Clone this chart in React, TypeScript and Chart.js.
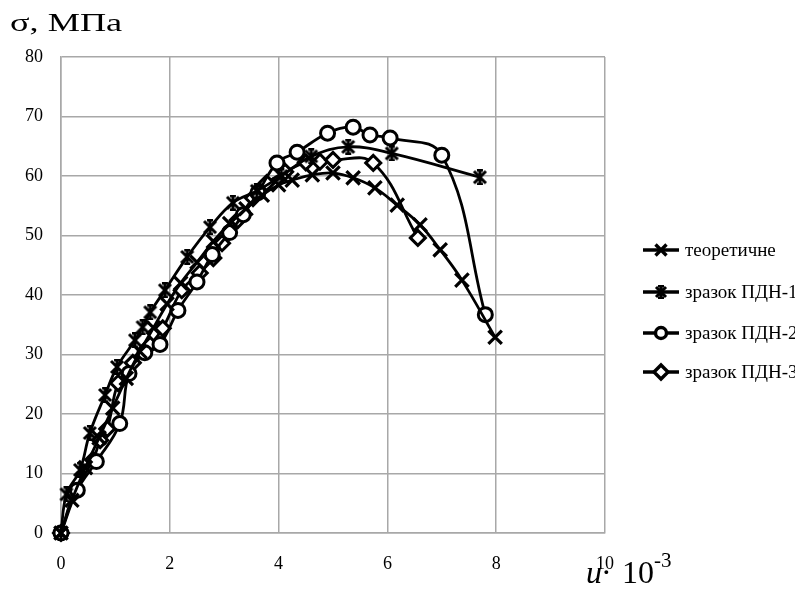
import React, { useEffect, useRef } from 'react';
import { Chart, registerables } from 'chart.js';

Chart.register(...registerables);

const seriesNames = ['теоретичне', 'зразок ПДН-1', 'зразок ПДН-2', 'зразок ПДН-3'];

const theoryX = [0, 0.2, 0.45, 0.7, 0.95, 1.2, 1.45, 1.7, 1.95, 2.2, 2.5, 2.8, 3.1, 3.4, 3.7, 4.0, 4.25, 4.62, 5.0, 5.37, 5.77, 6.18, 6.6, 6.97, 7.37, 7.98];
const theoryY = [0, 5.5, 11, 16, 21, 26, 30.5, 34.5, 38.5, 42, 45.5, 49, 52, 54.5, 56.8, 58.5, 59.3, 60.2, 60.5, 59.7, 58, 55.1, 51.8, 47.6, 42.5, 32.9];

const pdn1X = [0, 0.1, 0.35, 0.53, 0.81, 1.03, 1.36, 1.5, 1.64, 1.91, 2.32, 2.74, 3.16, 3.6, 4.05, 4.6, 5.28, 6.08, 7.7];
const pdn1Y = [0, 6.5, 10.6, 16.8, 23.2, 27.9, 32.4, 34.6, 37.1, 40.8, 46.4, 51.4, 55.5, 57.5, 60, 63.3, 64.9, 63.8, 59.8];

const pdn2X = [0, 0.3, 0.65, 1.08, 1.25, 1.54, 1.82, 2.15, 2.5, 2.78, 3.1, 3.35, 3.62, 3.97, 4.34, 4.9, 5.37, 5.68, 6.05, 7.0, 7.8];
const pdn2Y = [0, 7.2, 12, 18.4, 26.8, 30.3, 31.7, 37.4, 42.2, 46.8, 50.5, 53.5, 57.2, 62.2, 64, 67.2, 68.2, 66.9, 66.4, 63.5, 36.7];

const pdn3X = [0, 0.24, 0.59, 0.72, 0.85, 1.05, 1.32, 1.64, 1.87, 2.22, 2.55, 2.8, 2.96, 3.25, 3.53, 3.78, 4.12, 4.5, 4.76, 5.0, 5.74, 6.56];
const pdn3Y = [0, 6.7, 12.3, 15.6, 17.5, 25.2, 28.6, 31.6, 34.4, 40.8, 43.7, 46.2, 48.7, 52.6, 56.3, 58.8, 60.7, 62.3, 62.4, 62.7, 62.2, 49.6];

const xTickValues = [0, 2, 4, 6, 8, 10];
const yTickValues = [0, 10, 20, 30, 40, 50, 60, 70, 80];

const SERIF = "'Liberation Serif', 'Times New Roman', serif";

function makeStar(size: number, lw: number): HTMLCanvasElement {
  const c = document.createElement('canvas');
  c.width = size;
  c.height = size;
  const g = c.getContext('2d')!;
  g.strokeStyle = '#000';
  g.lineWidth = lw;
  const m = lw / 2 + 0.5;
  g.beginPath();
  g.moveTo(m, m);
  g.lineTo(size - m, size - m);
  g.moveTo(size - m, m);
  g.lineTo(m, size - m);
  g.moveTo(size / 2, 0);
  g.lineTo(size / 2, size);
  g.stroke();
  g.lineWidth = 2.5;
  g.beginPath();
  g.moveTo(size / 2 - 3, 1.25);
  g.lineTo(size / 2 + 3, 1.25);
  g.moveTo(size / 2 - 3, size - 1.25);
  g.lineTo(size / 2 + 3, size - 1.25);
  g.stroke();
  return c;
}

function toPts(xs: number[], ys: number[]) {
  return xs.map((x, i) => ({ x, y: ys[i] }));
}

export default function App() {
  const ref = useRef<HTMLCanvasElement | null>(null);

  useEffect(() => {
    document.body.style.margin = '0';
    const canvas = ref.current;
    if (!canvas) return;
    const star = makeStar(16, 3);
    const starLegend = makeStar(14, 3);

    const overlay = {
      id: 'overlay',
      afterDraw(chart: any) {
        const ctx = chart.ctx as CanvasRenderingContext2D;
        ctx.save();
        ctx.fillStyle = '#000';
        // title
        ctx.save();
        ctx.font = `25px ${SERIF}`;
        ctx.textBaseline = 'alphabetic';
        ctx.translate(10, 31);
        ctx.scale(1.45, 1);
        ctx.fillText('σ, МПа', 0, 0);
        ctx.restore();
        // x axis label
        ctx.textBaseline = 'alphabetic';
        ctx.font = `italic 32px ${SERIF}`;
        ctx.fillText('u', 586, 583);
        ctx.font = `32px ${SERIF}`;
        ctx.fillText('·', 601, 583);
        ctx.fillText('10', 622, 583);
        ctx.font = `21px ${SERIF}`;
        ctx.fillText('-3', 654, 567);
        // legend
        const ys = [250, 292, 333, 372];
        ys.forEach((y, i) => {
          ctx.strokeStyle = '#000';
          ctx.lineWidth = 3.5;
          ctx.beginPath();
          ctx.moveTo(643, y);
          ctx.lineTo(679, y);
          ctx.stroke();
          const cx = 661;
          ctx.lineWidth = 3.4;
          if (i === 0) {
            ctx.beginPath();
            ctx.moveTo(cx - 5.5, y - 5.5);
            ctx.lineTo(cx + 5.5, y + 5.5);
            ctx.moveTo(cx + 5.5, y - 5.5);
            ctx.lineTo(cx - 5.5, y + 5.5);
            ctx.stroke();
          } else if (i === 1) {
            ctx.drawImage(starLegend, cx - 7, y - 7);
          } else if (i === 2) {
            ctx.fillStyle = '#fff';
            ctx.beginPath();
            ctx.arc(cx, y, 5.5, 0, Math.PI * 2);
            ctx.fill();
            ctx.stroke();
          } else {
            ctx.fillStyle = '#fff';
            ctx.beginPath();
            ctx.moveTo(cx - 7, y);
            ctx.lineTo(cx, y - 7);
            ctx.lineTo(cx + 7, y);
            ctx.lineTo(cx, y + 7);
            ctx.closePath();
            ctx.fill();
            ctx.stroke();
          }
          ctx.fillStyle = '#000';
          ctx.font = `19px ${SERIF}`;
          ctx.textBaseline = 'middle';
          ctx.fillText(seriesNames[i], 685, y + 1);
        });
        ctx.restore();
      },
    };

    const common = {
      borderColor: '#000',
      borderWidth: 2.8,
      pointBorderColor: '#000',
      pointBackgroundColor: '#fff',
      pointBorderWidth: 3,
      tension: 0.4,
      fill: false,
      showLine: true,
      clip: false,
    };

    const chart = new Chart(canvas, {
      type: 'scatter',
      data: {
        datasets: [
          { ...common, label: seriesNames[0], data: toPts(theoryX, theoryY), pointStyle: 'crossRot', pointRadius: 9.5, pointBorderWidth: 3.2 },
          { ...common, label: seriesNames[1], data: toPts(pdn1X, pdn1Y), pointStyle: star as any, pointRadius: 8 },
          { ...common, label: seriesNames[2], data: toPts(pdn2X, pdn2Y), pointStyle: 'circle', pointRadius: 7 },
          { ...common, label: seriesNames[3], data: toPts(pdn3X, pdn3Y), pointStyle: 'rectRot', pointRadius: 7.5 },
        ] as any,
      },
      options: {
        animation: false,
        responsive: false,
        events: [],
        layout: { padding: { left: 0, top: 57, right: 190, bottom: 0 } },
        plugins: { legend: { display: false }, tooltip: { enabled: false } },
        scales: {
          x: {
            type: 'linear',
            min: 0,
            max: 10,
            afterFit: (s: any) => { s.height = 60; },
            afterBuildTicks: (s: any) => { s.ticks = xTickValues.map((v) => ({ value: v })); },
            grid: { color: '#a8a8a8', lineWidth: 1.5, drawTicks: false },
            border: { color: '#a8a8a8', width: 1.5 },
            ticks: { color: '#000', padding: 20, font: { family: SERIF, size: 18 } },
          },
          y: {
            type: 'linear',
            min: 0,
            max: 80,
            afterFit: (s: any) => { s.width = 61; },
            afterBuildTicks: (s: any) => { s.ticks = yTickValues.map((v) => ({ value: v })); },
            grid: { color: '#a8a8a8', lineWidth: 1.5, drawTicks: false },
            border: { color: '#a8a8a8', width: 1.5 },
            ticks: { color: '#000', padding: 18, font: { family: SERIF, size: 18 } },
          },
        },
      },
      plugins: [overlay],
    } as any);
    return () => chart.destroy();
  }, []);

  return (
    <div style={{ width: 795, height: 593, background: '#fff' }}>
      <canvas ref={ref} width={795} height={593} style={{ display: 'block' }} />
    </div>
  );
}
